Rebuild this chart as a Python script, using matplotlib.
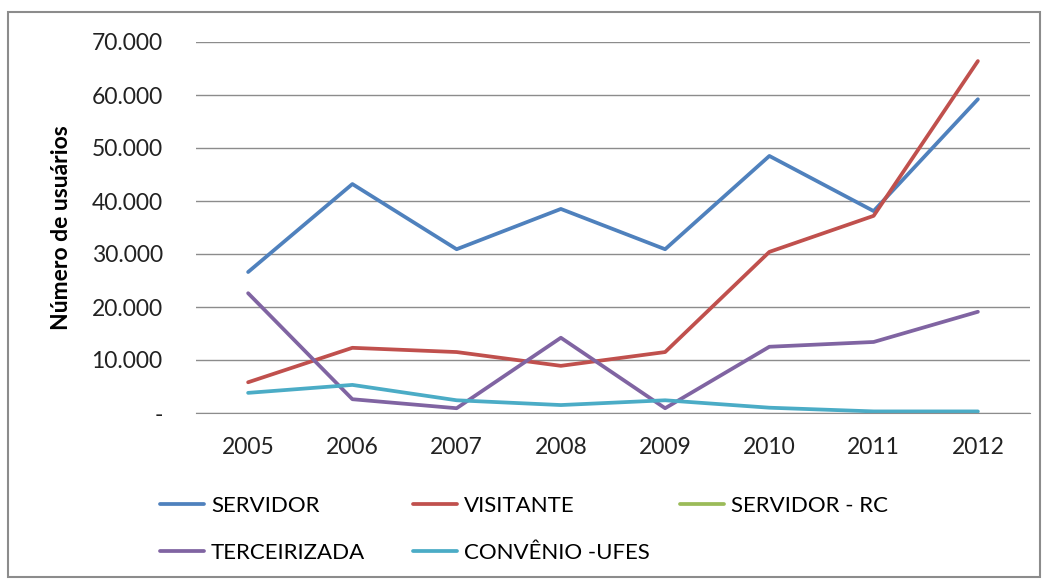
import matplotlib
matplotlib.use("Agg")
import matplotlib.pyplot as plt
from matplotlib.ticker import FuncFormatter
from matplotlib.patches import Rectangle
import numpy as np

years = ["2005", "2006", "2007", "2008", "2009", "2010", "2011", "2012"]
servidor = [26600, 43200, 30900, 38500, 30900, 48500, 38100, 59200]
visitante = [5800, 12300, 11500, 8900, 11500, 30400, 37200, 66400]
servidor_rc = [np.nan] * 8
terceirizada = [22600, 2600, 900, 14200, 900, 12500, 13400, 19100]
convenio = [3800, 5300, 2400, 1500, 2400, 1000, 300, 300]

series = [
    ("SERVIDOR", servidor, "#4F81BD"),
    ("VISITANTE", visitante, "#C0504D"),
    ("SERVIDOR - RC", servidor_rc, "#9BBB59"),
    ("TERCEIRIZADA", terceirizada, "#8064A2"),
    ("CONVÊNIO -UFES", convenio, "#4BACC6"),
]

plt.rcParams['font.family'] = ['Lato', 'DejaVu Sans']

fig = plt.figure(figsize=(10.45, 5.79), dpi=100)
ax = fig.add_axes([196/1045, 1-413/579, (1030-196)/1045, (413-42)/579])

x = np.arange(len(years))
handles = {}
for name, vals, col in series:
    h, = ax.plot(x, vals, color=col, lw=2.7, label=name, solid_capstyle='round')
    handles[name] = h

ax.set_xlim(-0.5, len(years) - 0.5)
ax.set_ylim(0, 70000)
ax.set_yticks(np.arange(0, 70001, 10000))
ax.yaxis.set_major_formatter(FuncFormatter(lambda v, p: "-" if v == 0 else f"{int(v):,}".replace(",", ".")))
ax.set_xticks(x)
ax.set_xticklabels(years)
ax.tick_params(axis='both', length=0, labelsize=16.5, colors='#222222')
ax.tick_params(axis='y', pad=24)
ax.tick_params(axis='x', pad=17)
ax.grid(axis='y', color='#8C8C8C', lw=1)
ax.set_axisbelow(True)
for s in ['left', 'right', 'top']:
    ax.spines[s].set_visible(False)
ax.spines['bottom'].set_color('#8C8C8C')
ax.set_ylabel("Número de usuários", fontsize=16.5, fontweight='bold', labelpad=14)

columns = [["SERVIDOR", "TERCEIRIZADA"], ["VISITANTE", "CONVÊNIO -UFES"], ["SERVIDOR - RC"]]
col_x = [160, 413, 680]
for names, cx in zip(columns, col_x):
    fig.legend([handles[n] for n in names], names, loc='upper left',
               bbox_to_anchor=(cx/1045, 1-496/579), frameon=False, fontsize=16,
               handlelength=2.0, handletextpad=0.3, labelspacing=1.2,
               borderaxespad=0, borderpad=0)

fig.patches.append(Rectangle((8/1045, 1-577/579), (1040-8)/1045, (577-12)/579,
                             transform=fig.transFigure, fill=False, ec='#8C8C8C', lw=1.5))

fig.savefig("out.png", dpi=100)
